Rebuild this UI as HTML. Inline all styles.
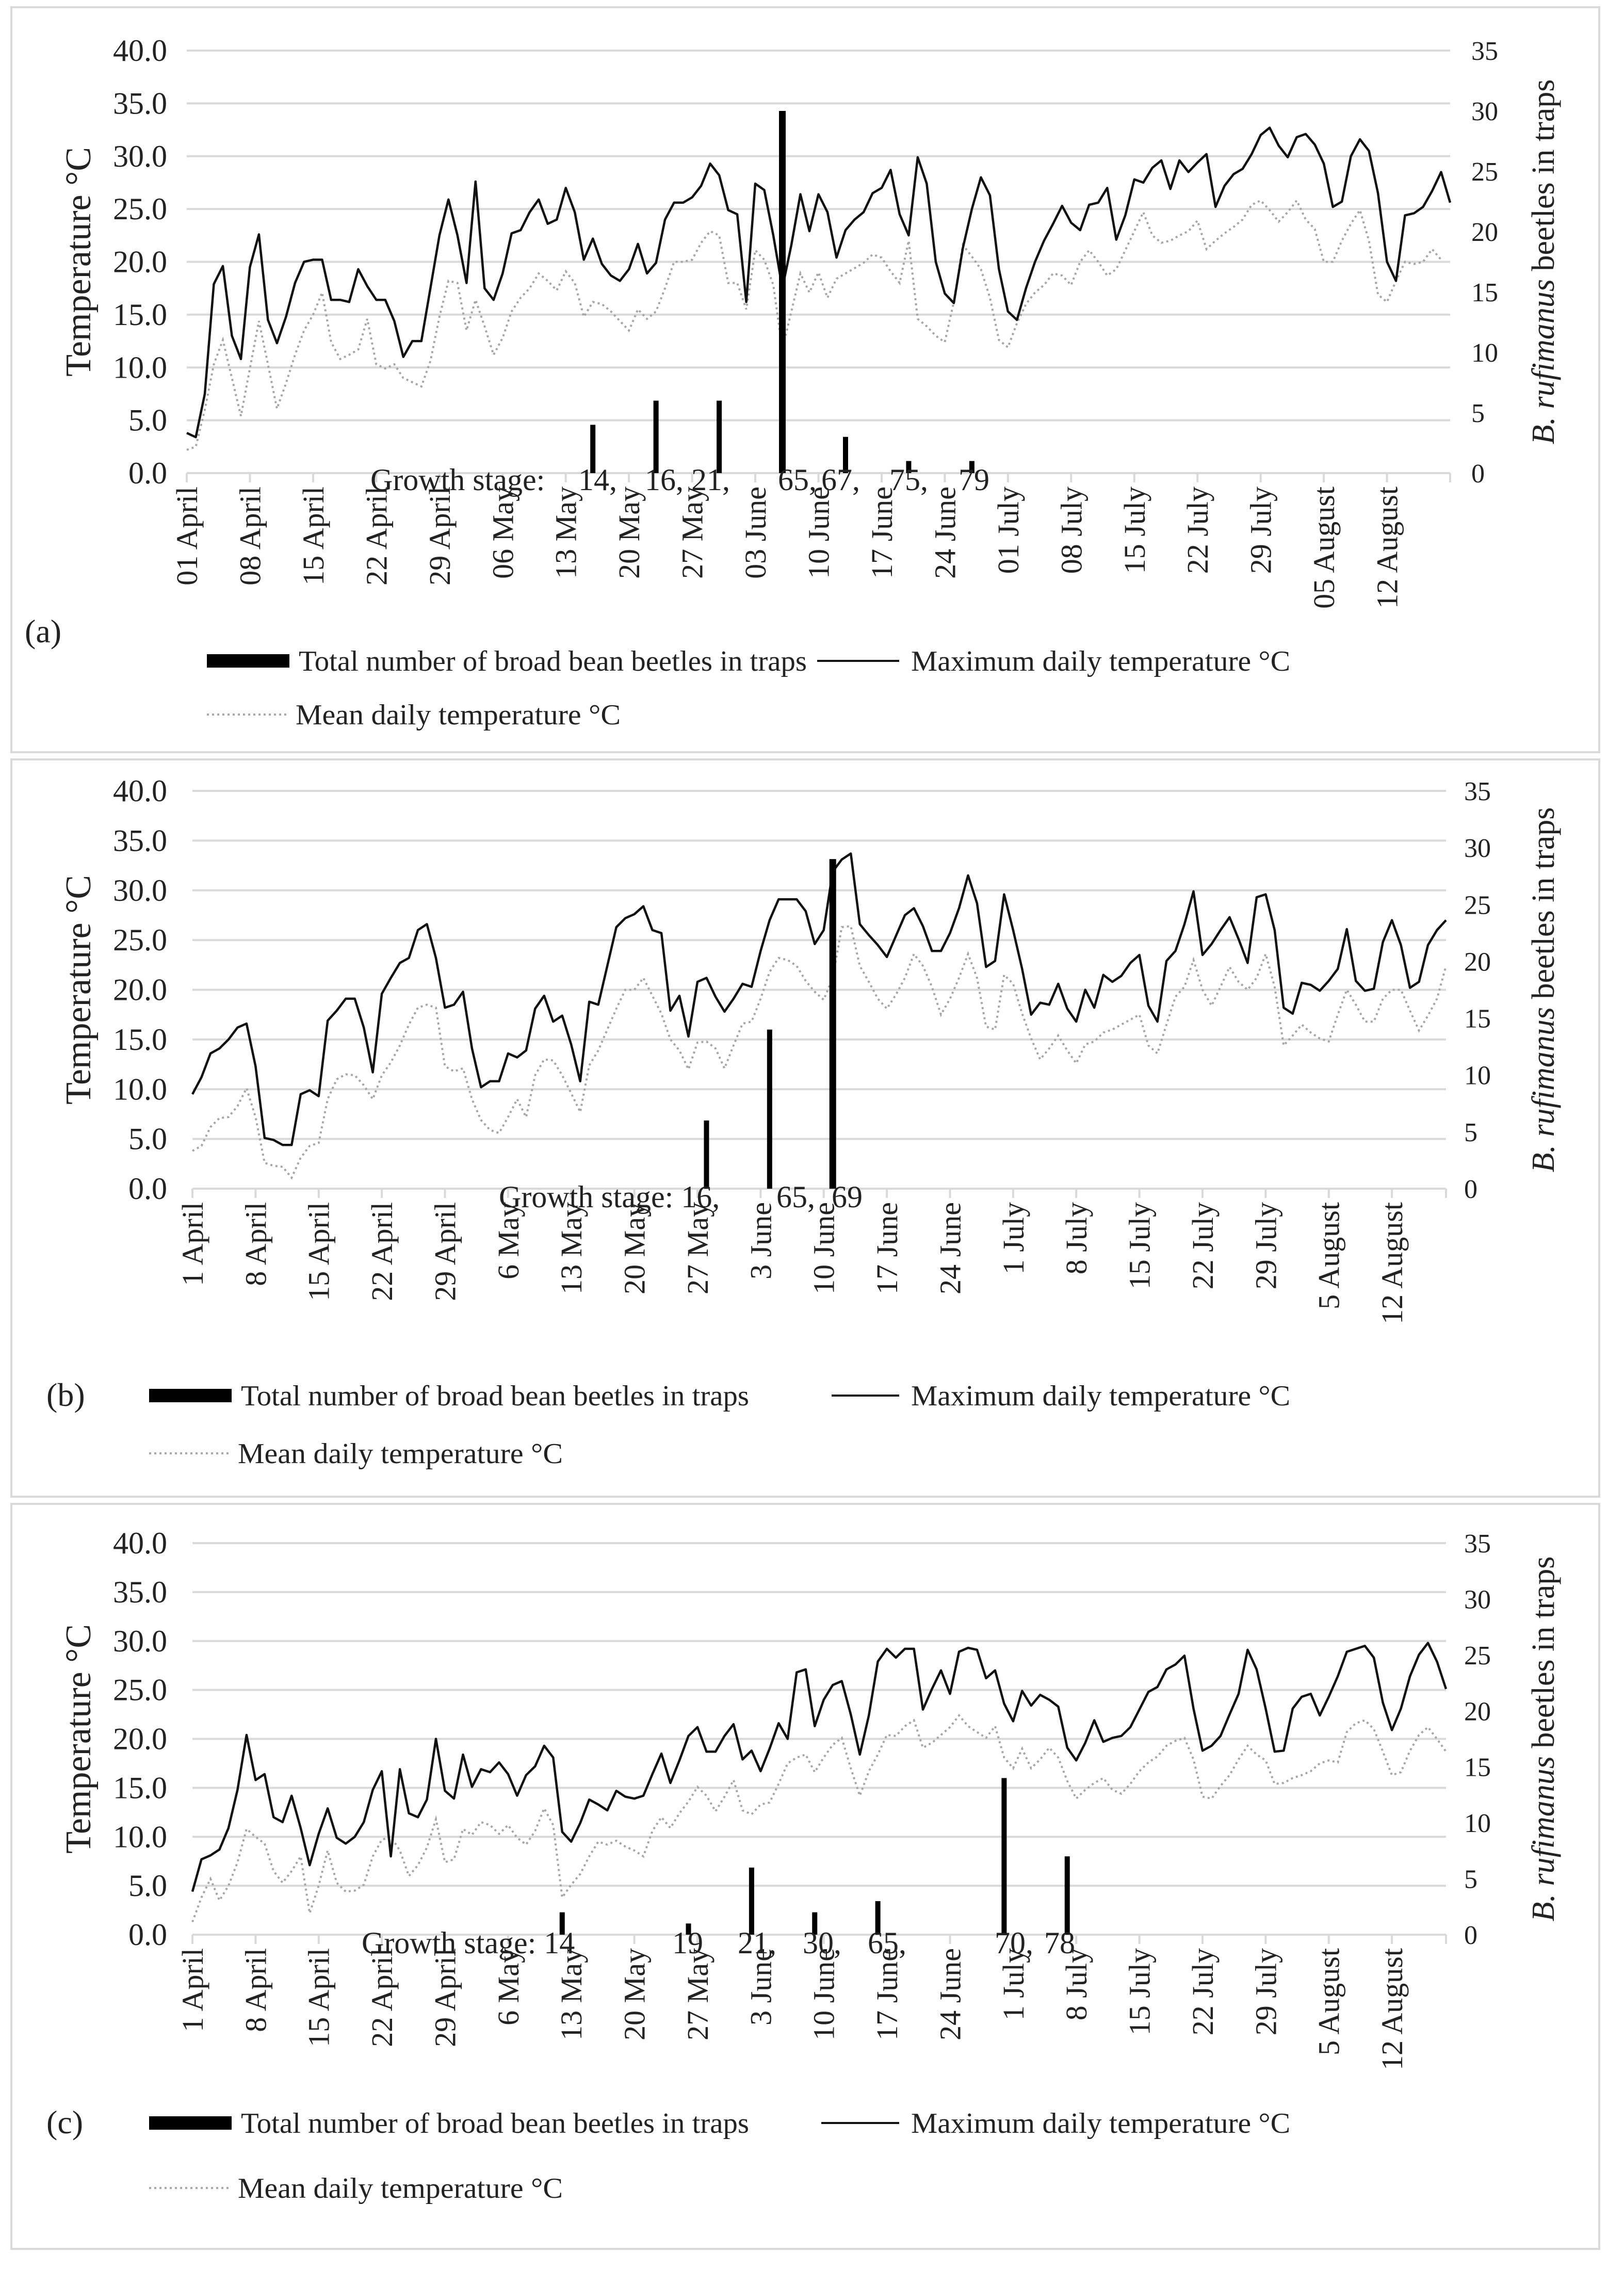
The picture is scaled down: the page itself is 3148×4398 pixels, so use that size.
<!DOCTYPE html>
<html><head><meta charset="utf-8">
<style>
html,body{margin:0;padding:0;background:#fff;}
svg{display:block;}
text{font-family:"Liberation Serif",serif;fill:#222;}
</style></head>
<body>
<svg id="fig" width="3148" height="4398" viewBox="0 0 3148 4398" xmlns="http://www.w3.org/2000/svg">
<rect x="0" y="0" width="3148" height="4398" fill="#fff"/>
</svg>
<script>
// ---------------- DATA ----------------
const labelsA = ["01 April","08 April","15 April","22 April","29 April","06 May","13 May","20 May","27 May","03 June","10 June","17 June","24 June","01 July","08 July","15 July","22 July","29 July","05 August","12 August"];
const labelsBC = ["1 April","8 April","15 April","22 April","29 April","6 May","13 May","20 May","27 May","3 June","10 June","17 June","24 June","1 July","8 July","15 July","22 July","29 July","5 August","12 August"];
const tempTicks = ["0.0","5.0","10.0","15.0","20.0","25.0","30.0","35.0","40.0"];
const beetleTicks = ["0","5","10","15","20","25","30","35"];

const maxA = [3.8,3.4,7.5,17.9,19.6,13,10.8,19.5,22.6,14.5,12.3,14.8,18,20,20.2,20.2,16.4,16.4,16.2,19.3,17.7,16.4,16.4,14.4,11,12.5,12.5,17.5,22.5,25.9,22.5,18,27.6,17.5,16.4,18.9,22.7,23,24.7,25.9,23.6,24,27,24.7,20.2,22.2,19.8,18.7,18.2,19.3,21.7,18.9,19.9,24,25.6,25.6,26.1,27.2,29.3,28.2,24.9,24.5,16.2,27.4,26.8,22.5,17.5,21.6,26.4,22.9,26.4,24.7,20.4,23,24,24.7,26.5,27,28.7,24.5,22.5,29.9,27.4,20,17,16.1,21.3,25,28,26.3,19.3,15.3,14.5,17.5,20,22,23.6,25.3,23.7,23,25.4,25.6,27,22.1,24.4,27.8,27.5,28.9,29.6,26.9,29.6,28.5,29.4,30.2,25.2,27.2,28.3,28.8,30.2,32,32.7,31,29.9,31.8,32.1,31.1,29.3,25.2,25.7,30,31.6,30.5,26.5,20,18.2,24.4,24.6,25.2,26.7,28.5,25.6];
const meanA = [2.2,2.5,6,10.3,12.6,9,5.4,9.9,14.4,10.3,6.1,8.5,11.2,13.5,15,17.1,12.4,10.8,11.2,11.7,14.6,10.3,9.9,10.3,9,8.6,8.2,10.6,14.8,18.2,18,13.5,16.4,13.9,11.2,12.8,15.3,16.6,17.5,18.9,18.2,17.3,19.1,18,14.8,16.2,16,15.3,14.4,13.5,15.5,14.6,15.3,17.5,20,20,20.2,21.8,22.9,22.5,18,18,15.5,21.1,20.2,17.8,11.7,15.3,18.9,17.1,19,16.6,18.4,18.9,19.4,19.9,20.7,20.4,19.1,18,22,14.6,13.9,13,12.4,16.2,21.6,20.5,19.3,16.6,12.6,11.9,14.2,16,17.1,17.8,18.9,18.7,17.8,20,21.1,20,18.7,19.3,21.1,22.9,24.7,22.5,21.8,22,22.5,22.9,23.9,21.2,22,22.7,23.3,24,25.4,25.8,24.9,23.8,24.7,25.8,24,23.1,20,20,22,23.6,24.9,22,16.9,16.2,18.2,20,19.8,20,21.2,20.2];
const beetleDaysA = [45,52,59,66,73,80,87];
const beetleCountsA = [4,6,6,30,3,1,1];

const maxB = [9.5,11.2,13.6,14.1,15,16.2,16.6,12.3,5.1,4.9,4.4,4.4,9.5,9.9,9.3,16.9,17.9,19.1,19.1,16.2,11.7,19.6,21.2,22.7,23.2,26,26.6,23.2,18.2,18.5,19.8,14.1,10.2,10.8,10.8,13.6,13.2,13.9,18.1,19.4,16.8,17.4,14.5,10.8,18.8,18.5,22.4,26.3,27.2,27.6,28.4,26,25.7,17.9,19.4,15.3,20.8,21.2,19.3,17.8,19.1,20.6,20.3,23.9,27,29.1,29.1,29.1,27.9,24.6,26,31.9,33.1,33.7,26.6,25.5,24.5,23.3,25.4,27.5,28.2,26.4,23.9,23.9,25.7,28.2,31.5,28.7,22.3,22.9,29.6,26,22.1,17.5,18.7,18.5,20.6,18.1,16.8,20,18.2,21.5,20.8,21.4,22.7,23.5,18.4,16.8,22.9,23.9,26.6,29.9,23.5,24.6,26,27.3,25.1,22.7,29.3,29.6,26,18.2,17.6,20.7,20.5,19.9,20.9,22.1,26.1,20.9,19.9,20.1,24.8,27,24.5,20.2,20.8,24.5,26,27];
const meanB = [3.8,4.3,6.2,7.1,7.2,8.3,10.1,7.2,2.6,2.3,2.2,1.1,3.1,4.3,4.6,9,11,11.5,11.4,10.4,9,11.4,12.7,14.4,16.5,18.2,18.5,18.2,12.3,11.8,12.1,9,6.9,5.9,5.6,7.2,9,7.2,11.4,13,12.9,11.4,9.6,7.7,12.4,13.9,16,18.1,20,20,21.2,19.4,17.6,15,13.9,12,14.7,14.8,14.1,12.1,14.4,16.6,16.8,19.1,21.8,23.2,23,22.4,20.9,19.8,19,21.2,26.3,26.4,22.4,20.8,19.1,18.1,19.5,21.2,23.6,22.4,20.3,17.5,19.1,21.2,23.6,21.2,16.3,16,21.5,20.6,17.6,15.1,13,14.1,15.4,13.9,12.6,14.5,14.8,15.7,16,16.5,17,17.5,14.4,13.6,16.5,19.3,20.3,23,20,18.4,20.3,22.3,20.8,20,21.2,23.6,20.3,14.4,15.4,16.5,15.7,15.1,14.8,17.5,20,18.5,16.8,16.8,19.1,20,20,17.9,15.9,17.4,19.1,22.4];
const beetleDaysB = [57,64,71];
const beetleCountsB = [6,14,29];

const maxC = [4.4,7.7,8.1,8.7,10.9,14.8,20.4,15.8,16.4,12,11.5,14.2,10.9,7.1,10.3,12.9,9.9,9.3,10,11.5,14.8,16.7,8,16.9,12.4,12,13.8,20,14.7,13.9,18.4,15.1,16.9,16.6,17.6,16.4,14.2,16.3,17.2,19.3,18.1,10.5,9.5,11.4,13.8,13.3,12.7,14.7,14.1,13.9,14.2,16.4,18.5,15.5,17.8,20.3,21.2,18.7,18.7,20.3,21.5,17.9,18.8,16.7,19,21.6,20,26.8,27.1,21.3,24,25.5,25.9,22.5,18.4,22.4,27.9,29.2,28.3,29.2,29.2,23,25.1,27,24.6,28.9,29.3,29.1,26.2,27,23.6,21.8,24.9,23.4,24.5,24,23.3,19.1,17.8,19.6,21.9,19.7,20.1,20.3,21.2,23,24.8,25.3,27.1,27.6,28.5,23.1,18.8,19.3,20.3,22.5,24.6,29.1,27.1,23.1,18.7,18.8,23.1,24.3,24.6,22.4,24.3,26.4,28.9,29.2,29.5,28.3,23.7,20.9,23.1,26.4,28.6,29.8,27.9,25.1];
const meanC = [1.3,3.8,5.7,3.5,5,7.4,10.8,10,9.3,6.5,5.3,6.5,8,2.2,5,8.6,5.3,4.4,4.5,5.1,8,9.7,10,8.6,6,7.1,8.9,11.8,7.4,7.7,10.8,10.2,11.5,11.2,10.3,11.2,9.9,9.2,10.6,12.9,11.2,3.8,5.1,6.2,8,9.5,9.2,9.6,9,8.6,8,10.6,12,10.9,12.4,13.6,15.1,14.2,12.6,14.1,15.8,12.7,12.3,13.3,13.5,15.4,17.5,18.1,18.4,16.6,18.1,19.4,20.1,17,14.2,16.7,18.4,20.4,20.3,21.3,21.9,19.1,19.6,20.4,21.2,22.4,21.3,20.7,20.1,21.3,18.1,17,19,17,17.9,19.1,18.1,15.7,13.9,14.8,15.5,16,14.8,14.4,15.4,16.7,17.6,18.2,19.3,19.8,20.1,17.9,14.1,13.9,15.2,16.3,17.9,19.3,18.4,17.8,15.4,15.5,16,16.3,16.7,17.5,17.8,17.6,20.7,21.6,21.9,21,18.7,16.3,16.6,18.8,20.4,21.2,20,18.7];
const beetleDaysC = [41,55,62,69,76,90,97];
const beetleCountsC = [2,1,6,2,3,14,7];

const stageA = ["Growth stage:","14,","16, 21,","65,","67,","75,","79"];
const stageB = ["Growth stage: 16,","65,","69"];
const stageC = ["Growth stage: 14","19","21,","30,","65,","70,","78"];
const legendBar = "Total number of broad bean beetles in traps";
const legendMax = "Maximum daily temperature °C";
const legendMean = "Mean daily temperature °C";

// ---------------- DRAWING ----------------
const NS = "http://www.w3.org/2000/svg";
const svg = document.getElementById("fig");
function mk(tag, attrs, parent) {
  const e = document.createElementNS(NS, tag);
  for (const k in attrs) e.setAttribute(k, attrs[k]);
  (parent || svg).appendChild(e);
  return e;
}

function drawPanel(p) {
  const g = mk("g", {});
  
  
  const frame = mk("rect", {x:p.fx, y:p.fy, width:p.fw, height:p.fh, fill:"none", stroke:"#d9d9d9", "stroke-width":4}, g);
  
  
  const n = p.max.length;
  const xOf = i => p.x0 + i * (p.x1 - p.x0) / (n - 1);
  const yT = v => p.y0 - v / 40 * (p.y0 - p.y40);
  const yB = v => p.y0 - v / 35 * (p.y0 - p.y40);
  tempTicks.forEach((t, k) => {
    const v = parseFloat(t);
    const gl = mk("line", {x1:p.x0, x2:p.x1, y1:yT(v), y2:yT(v), stroke:"#d9d9d9", "stroke-width":4}, g);
    
    
    const tl = mk("text", {x:324, y:yT(v)+20, "text-anchor":"end", "font-size":60}, g);
    tl.textContent = t;
    
    
  });
  beetleTicks.forEach(t => {
    const v = parseFloat(t);
    const tl = mk("text", {x:p.rx, y:yB(v)+18, "text-anchor":"start", "font-size":52}, g);
    tl.textContent = t;
    
    
  });
  p.labels.forEach((lab, k) => {
    const x = xOf(k * 7);
    const tk = mk("line", {x1:x, x2:x, y1:p.y0, y2:p.y0+18, stroke:"#d9d9d9", "stroke-width":4}, g);
    
    
    const tl = mk("text", {x:0, y:0, "text-anchor":"end", "font-size":58, transform:`translate(${x+20},${p.y0+26}) rotate(-90)`}, g);
    tl.textContent = lab;
    
    
  });
  const endTick = mk("line", {x1:p.x1, x2:p.x1, y1:p.y0, y2:p.y0+18, stroke:"#d9d9d9", "stroke-width":4}, g);
  
  
  const yt = mk("text", {x:0, y:0, "text-anchor":"middle", "font-size":70, transform:`translate(${p.ytx},${(p.y0+p.y40)/2}) rotate(-90)`}, g);
  yt.textContent = "Temperature °C";
  
  
  const y2 = mk("text", {x:0, y:0, "text-anchor":"middle", "font-size":62, transform:`translate(${p.y2tx},${(p.y0+p.y40)/2}) rotate(-90)`}, g);
  
  
  const it = mk("tspan", {"font-style":"italic"}, y2); it.textContent = "B. rufimanus";
  const rt = mk("tspan", {}, y2); rt.textContent = " beetles in traps";
  const meanPts = p.mean.map((v, i) => xOf(i).toFixed(1) + "," + yT(v).toFixed(1)).join(" ");
  const ml = mk("polyline", {points:meanPts, fill:"none", stroke:"#a6a6a6", "stroke-width":4, "stroke-dasharray":"4 6"}, g);
  
  
  const maxPts = p.max.map((v, i) => xOf(i).toFixed(1) + "," + yT(v).toFixed(1)).join(" ");
  const xl = mk("polyline", {points:maxPts, fill:"none", stroke:"#111", "stroke-width":4.5, "stroke-linejoin":"round"}, g);
  
  
  p.bDays.forEach((d, k) => {
    const c = p.bCounts[k];
    const w = c > 20 ? 13 : 10;
    const b = mk("rect", {x:xOf(d)-w/2, y:yB(c), width:w, height:p.y0-yB(c), fill:"#000"}, g);
    
    
  });
  p.stages.forEach((s, k) => {
    const t = mk("text", {x:p.stageX[k], y:p.stageY, "font-size":60}, g);
    t.textContent = s;
    
    
  });
  const pl = mk("text", {x:p.letterX, y:p.letterY, "font-size":64}, g);
  pl.textContent = "(" + p.id + ")";
  
  
  const lg = mk("g", {}, g);
  
  
  const lb = mk("rect", {x:p.legX, y:p.legY-13, width:160, height:26, fill:"#000"}, lg);
  
  
  const lt1 = mk("text", {x:p.legX+178, y:p.legY+19, "font-size":56, textLength:985, lengthAdjust:"spacingAndGlyphs"}, lg);
  lt1.textContent = legendBar;
  
  
  const lm = mk("line", {x1:p.legMaxX, x2:1743, y1:p.legY, y2:p.legY, stroke:"#111", "stroke-width":4}, lg);
  
  
  const lt2 = mk("text", {x:1766, y:p.legY+19, "font-size":56, textLength:735, lengthAdjust:"spacingAndGlyphs"}, lg);
  lt2.textContent = legendMax;
  
  
  const ld = mk("line", {x1:p.legX, x2:p.legX+160, y1:p.leg2Y, y2:p.leg2Y, stroke:"#a6a6a6", "stroke-width":4, "stroke-dasharray":"4 6"}, lg);
  
  
  const lt3 = mk("text", {x:p.legX+172, y:p.leg2Y+19, "font-size":56, textLength:630, lengthAdjust:"spacingAndGlyphs"}, lg);
  lt3.textContent = legendMean;
  
  
}

drawPanel({id:"a", fx:22, fy:14, fw:3078, fh:1444, x0:362, x1:2811, y0:917, y40:98,
  max:maxA, mean:meanA, bDays:beetleDaysA, bCounts:beetleCountsA, labels:labelsA,
  rx:2852, ytx:175, y2tx:3012,
  stages:stageA, stageX:[718,1121,1250,1508,1592,1724,1858], stageY:950,
  letterX:48, letterY:1245, legX:401, legY:1281, legMaxX:1584, leg2Y:1385});
drawPanel({id:"b", fx:22, fy:1472, fw:3078, fh:1429, x0:373, x1:2803, y0:2304, y40:1533,
  max:maxB, mean:meanB, bDays:beetleDaysB, bCounts:beetleCountsB, labels:labelsBC,
  rx:2838, ytx:175, y2tx:3012,
  stages:stageB, stageX:[967,1505,1612], stageY:2340,
  letterX:90, letterY:2725, legX:289, legY:2705, legMaxX:1612, leg2Y:2817});
drawPanel({id:"c", fx:22, fy:2915, fw:3078, fh:1444, x0:373, x1:2803, y0:3750, y40:2991,
  max:maxC, mean:meanC, bDays:beetleDaysC, bCounts:beetleCountsC, labels:labelsBC,
  rx:2838, ytx:175, y2tx:3012,
  stages:stageC, stageX:[701,1303,1430,1556,1682,1928,2024], stageY:3786,
  letterX:90, letterY:4135, legX:289, legY:4115, legMaxX:1592, leg2Y:4241});
</script>
</body></html>
